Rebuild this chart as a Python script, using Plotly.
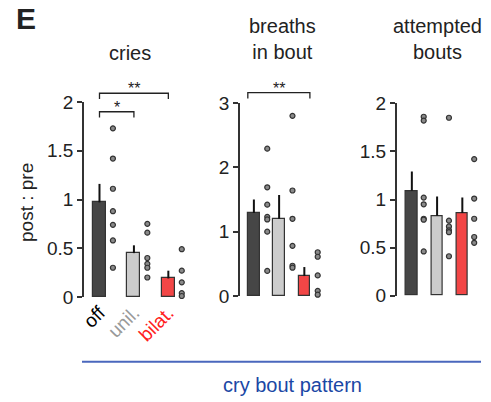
import plotly.graph_objects as go

W, H = 491, 402

groups = ["off", "unil.", "bilat."]
group_colors = ["#464646", "#cccccc", "#f24646"]
label_colors = ["#000000", "#999999", "#ff2020"]

cries_mean = [0.97, 0.45, 0.19]
cries_err = [0.19, 0.08, 0.08]
cries_off = [1.73, 1.42, 1.11, 0.88, 0.74, 0.58, 0.30]
cries_unil = [0.75, 0.66, 0.40, 0.34, 0.30, 0.20]
cries_bilat = [0.49, 0.27, 0.15, 0.04, 0.01]

breaths_mean = [1.29, 1.20, 0.31]
breaths_err = [0.21, 0.37, 0.14]
breaths_off = [2.29, 1.69, 1.42, 1.23, 1.19, 1.00, 0.39]
breaths_unil = [2.80, 1.64, 1.20, 0.78, 0.47, 0.44]
breaths_bilat = [0.68, 0.61, 0.32, 0.08, 0.02]

attempt_mean = [1.09, 0.83, 0.86]
attempt_err = [0.20, 0.20, 0.16]
attempt_off = [1.86, 1.82, 1.02, 0.95, 0.80, 0.79, 0.46]
attempt_unil = [1.85, 0.78, 0.72, 0.68, 0.66, 0.41]
attempt_bilat = [1.42, 1.01, 0.80, 0.61, 0.55]

titles = ["cries", "breaths<br>in bout", "attempted<br>bouts"]
y_label = "post : pre"
x_label = "cry bout pattern"

def px_x(p):
    return p / W

def px_y(p):
    return 1 - p / H

panels = [
    dict(xpx=(84, 189), ypx=(297, 102), xr=(-0.45, 2.6), yr=(0, 2), bw=0.38, off=0.39,
         ticks=[0, 0.5, 1, 1.5, 2], ticktext=["0", "0.5", "1", "1.5", "2"], tcx=130, tcy=53,
         mean=cries_mean, err=cries_err, pts=[cries_off, cries_unil, cries_bilat]),
    dict(xpx=(240, 322), ypx=(296, 103), xr=(-0.55, 2.7), yr=(0, 3), bw=0.46, off=0.53,
         ticks=[0, 1, 2, 3], ticktext=["0", "1", "2", "3"], tcx=282, tcy=38.5,
         mean=breaths_mean, err=breaths_err, pts=[breaths_off, breaths_unil, breaths_bilat]),
    dict(xpx=(396.7, 480), ypx=(295.7, 103.3), xr=(-0.6, 2.7), yr=(0, 2), bw=0.45, off=0.47,
         ticks=[0, 0.5, 1, 1.5, 2], ticktext=["0", "0.5", "1", "1.5", "2"], tcx=437, tcy=38.5,
         mean=attempt_mean, err=attempt_err, pts=[attempt_off, attempt_unil, attempt_bilat]),
]

FONT = "Arial, Liberation Sans, sans-serif"
fig = go.Figure()
layout = dict(width=W, height=H, autosize=False,
              margin=dict(l=0, r=0, t=0, b=0, pad=0, autoexpand=False),
              paper_bgcolor="white", plot_bgcolor="white", showlegend=False,
              font=dict(family=FONT, color="#222222"), bargap=0)

shapes, annotations = [], []

for i, p in enumerate(panels):
    n = "" if i == 0 else str(i + 1)
    xa, ya = "x" + n, "y" + n
    xdom = [px_x(p["xpx"][0]), px_x(p["xpx"][1])]
    ydom = [px_y(p["ypx"][0]), px_y(p["ypx"][1])]
    p["xdom"], p["ydom"] = xdom, ydom
    idx = list(range(len(groups)))
    fig.add_trace(go.Bar(
        x=idx, y=p["mean"], width=p["bw"], xaxis=xa, yaxis=ya,
        marker=dict(color=group_colors, line=dict(color="#333333", width=1.2)),
        error_y=dict(type="data", symmetric=False, array=p["err"],
                     arrayminus=[0] * len(groups), color="#111111", thickness=2, width=0),
    ))
    for g, vals in enumerate(p["pts"]):
        fig.add_trace(go.Scatter(
            x=[g + p["off"]] * len(vals), y=vals, mode="markers", xaxis=xa, yaxis=ya,
            cliponaxis=False,
            marker=dict(size=5, color="#8a8a8a", line=dict(color="#333333", width=1.2)),
        ))
    xd = dict(domain=xdom, range=list(p["xr"]), anchor=ya, showline=False, automargin=False,
              showgrid=False, zeroline=False, ticks="", fixedrange=True)
    if i == 0:
        xd.update(tickvals=idx,
                  ticktext=[f"<span style='color:{c}'>{t}</span>" for t, c in zip(groups, label_colors)],
                  tickangle=-45, tickfont=dict(size=19, family=FONT), showticklabels=True)
    else:
        xd.update(showticklabels=False)
    yd = dict(domain=ydom, range=list(p["yr"]), anchor=xa, showline=True, automargin=False,
              linecolor="#333333", linewidth=1.5, ticks="outside", ticklen=5,
              tickwidth=1.5, tickcolor="#333333", tickvals=p["ticks"],
              ticktext=p["ticktext"], showgrid=False, zeroline=False,
              tickfont=dict(size=19, family=FONT, color="#222222"), fixedrange=True)
    layout["xaxis" + n] = xd
    layout["yaxis" + n] = yd
    annotations.append(dict(text=titles[i], xref="paper", yref="paper",
                            x=px_x(p["tcx"]), y=px_y(p["tcy"]), xanchor="center", yanchor="middle",
                            showarrow=False, font=dict(size=20, family=FONT, color="#222222")))

def to_paper(p, xv, yv):
    x0, x1 = p["xr"]
    y0, y1 = p["yr"]
    xp = p["xdom"][0] + (xv - x0) / (x1 - x0) * (p["xdom"][1] - p["xdom"][0])
    yp = p["ydom"][0] + (yv - y0) / (y1 - y0) * (p["ydom"][1] - p["ydom"][0])
    return xp, yp

brackets = [(0, 0.0, 2.0, 2.09, 2.03, "**"), (0, 0.0, 1.0, 1.90, 1.84, "*"),
            (1, -0.24, 2.22, 3.16, 3.07, "**")]
for pi, xs, xe, yb, yt, lab in brackets:
    p = panels[pi]
    ax, ay = to_paper(p, xs, yb)
    bx, _ = to_paper(p, xe, yb)
    _, ty = to_paper(p, xs, yt)
    path = f"M {ax},{ty} L {ax},{ay} L {bx},{ay} L {bx},{ty}"
    shapes.append(dict(type="path", path=path, xref="paper", yref="paper",
                       line=dict(color="#222222", width=1.3)))
    annotations.append(dict(text=lab, xref="paper", yref="paper", x=(ax + bx) / 2, y=ay,
                            xanchor="center", yanchor="bottom", showarrow=False, yshift=-6,
                            font=dict(size=16, family=FONT, color="#222222")))

annotations.append(dict(text="<b>E</b>", xref="paper", yref="paper", x=px_x(14), y=px_y(19),
                        xanchor="left", yanchor="middle", showarrow=False,
                        font=dict(size=30, family=FONT, color="#222222")))
annotations.append(dict(text=y_label, xref="paper", yref="paper", x=px_x(26), y=px_y(203),
                        xanchor="center", yanchor="middle", textangle=-90, showarrow=False,
                        font=dict(size=19, family=FONT, color="#222222")))
shapes.append(dict(type="line", xref="paper", yref="paper", x0=px_x(82), x1=px_x(481),
                   y0=px_y(361.7), y1=px_y(361.7), line=dict(color="#4a67bd", width=2)))
annotations.append(dict(text=x_label, xref="paper", yref="paper", x=px_x(292), y=px_y(385),
                        xanchor="center", yanchor="middle", showarrow=False,
                        font=dict(size=20, family=FONT, color="#1a47a5")))

layout["shapes"] = shapes
layout["annotations"] = annotations
fig.update_layout(**layout)
fig.write_html("out.html", config={"responsive": False, "displayModeBar": False},
               post_script="document.body.style.margin='0px';document.body.style.padding='0px';")
